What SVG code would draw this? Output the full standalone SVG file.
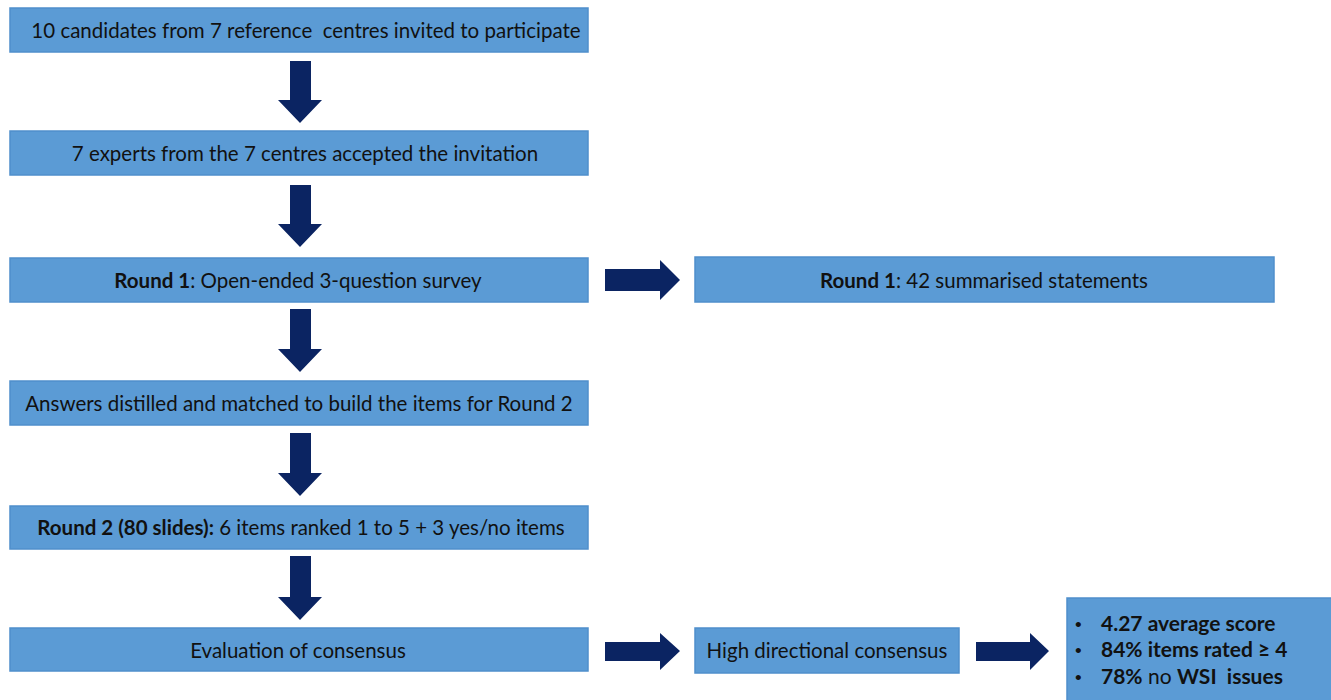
<svg xmlns="http://www.w3.org/2000/svg" width="1331" height="700" viewBox="0 0 1331 700">
<style>
.box{fill:#5B9BD5;stroke:#4F8FCB;stroke-width:1.5}
.t{font-family:Lato,"Open Sans","Liberation Sans",sans-serif;font-size:20.5px;fill:#111;text-anchor:middle;dominant-baseline:central;white-space:pre}
.tl{font-family:Lato,"Open Sans","Liberation Sans",sans-serif;font-size:21px;fill:#111;font-weight:bold;white-space:pre}
.bu{font-family:"Liberation Sans",sans-serif;font-size:19px;fill:#111}
.b{font-weight:bold}
.arr{fill:#0B2462}
</style>
<rect width="1331" height="700" fill="#fff"/>
<g id="n1"><rect class="box" x="10" y="8" width="578" height="44"/><text class="t" x="306" y="30" xml:space="preserve">10 candidates from 7 reference  centres invited to participate</text></g>
<g id="n2"><rect class="box" x="10" y="131" width="578" height="44"/><text class="t" x="305" y="153">7 experts from the 7 centres accepted the invitation</text></g>
<g id="n3"><rect class="box" x="10" y="258" width="578" height="44"/><text class="t" x="298" y="280"><tspan class="b">Round 1</tspan>: Open-ended 3-question survey</text></g>
<g id="n4"><rect class="box" x="695" y="257" width="579" height="45"/><text class="t" x="984" y="280"><tspan class="b">Round 1</tspan>: 42 summarised statements</text></g>
<g id="n5"><rect class="box" x="10" y="381" width="578" height="44"/><text class="t" x="299" y="403">Answers distilled and matched to build the items for Round 2</text></g>
<g id="n6"><rect class="box" x="10" y="506" width="578" height="43"/><text class="t" x="301" y="527"><tspan class="b">Round 2 (80 slides):</tspan> 6 items ranked 1 to 5 + 3 yes/no items</text></g>
<g id="n7"><rect class="box" x="10" y="628" width="578" height="43"/><text class="t" x="298" y="650">Evaluation of consensus</text></g>
<g id="n8"><rect class="box" x="695" y="628" width="264" height="45"/><text class="t" x="827" y="650">High directional consensus</text></g>
<g id="n9"><rect class="box" x="1067" y="598" width="270" height="110"/>
<text class="bu" x="1075" y="631">•</text><text class="tl" x="1101" y="631">4.27 average score</text>
<text class="bu" x="1075" y="657">•</text><text class="tl" x="1101" y="657">84% items rated ≥ 4</text>
<text class="bu" x="1075" y="684">•</text><text class="tl" x="1101" y="684" xml:space="preserve">78%<tspan font-weight="normal"> no </tspan>WSI  issues</text>
</g>
<g id="connectors">
<path class="arr" d="M290 61H311V100H322L300 123L278 100H290Z"/>
<path class="arr" d="M290 185H311V224H322L300 247L278 224H290Z"/>
<path class="arr" d="M290 309H311V349H322L300 372L278 349H290Z"/>
<path class="arr" d="M290 433H311V473H322L300 496L278 473H290Z"/>
<path class="arr" d="M290 556H311V597H322L300 620L278 597H290Z"/>
<path class="arr" d="M605 269H660V260L680 280L660 300V291H605Z"/>
<path class="arr" d="M605 642H660V633L680 651L660 670V661H605Z"/>
<path class="arr" d="M976 642H1030V633L1049 651L1030 670V661H976Z"/>
</g>
</svg>
